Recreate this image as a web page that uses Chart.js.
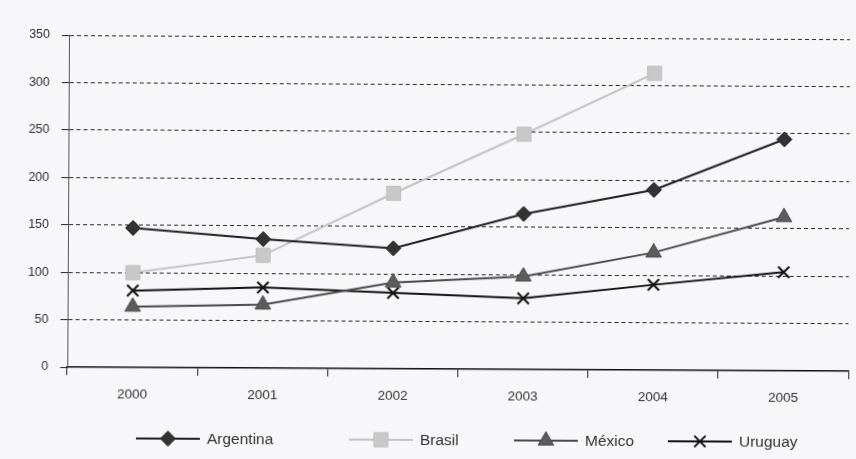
<!DOCTYPE html>
<html>
<head>
<meta charset="utf-8">
<script src="https://cdn.jsdelivr.net/npm/chart.js@4.4.1/dist/chart.umd.min.js"></script>
<style>
  html, body { margin: 0; padding: 0; background: #f7f6f8; overflow: hidden; }
  #wrap { width: 860px; height: 459px; transform: rotate(0.3deg); transform-origin: 428px 230px; }
  canvas { display: block; }
</style>
</head>
<body>
<div id="wrap"><canvas id="chart" width="860" height="459"></canvas></div>
<script>
// Years on the horizontal axis
const years = ['2000', '2001', '2002', '2003', '2004', '2005'];

// Index values per country (Brasil has no 2005 figure)
const argentina = [147, 136, 127, 164, 190, 244];
const brasil    = [100, 119, 185, 248, 313, null];
const mexico    = [64, 67, 91, 98, 124, 162];
const uruguay   = [81, 85, 80, 75, 90, 104];

// Vertical axis range and step
const yMin = 0;
const yMax = 350;
const yStep = 50;

const FONT = '"Liberation Sans", Arial, Helvetica, sans-serif';

// Key drawn under the axis: one line sample with marker per series
const keyLayout = { y: 440, starts: [137, 350, 515, 669], lineLength: 64, gap: 7 };

const seriesKey = {
  id: 'seriesKey',
  afterDraw(chart) {
    const ctx = chart.ctx;
    chart.data.datasets.forEach((ds, i) => {
      const x0 = keyLayout.starts[i];
      const y = keyLayout.y;
      const len = keyLayout.lineLength;
      ctx.save();
      ctx.strokeStyle = ds.borderColor;
      ctx.lineWidth = ds.borderWidth;
      ctx.beginPath();
      ctx.moveTo(x0, y);
      ctx.lineTo(x0 + len, y);
      ctx.stroke();
      ctx.fillStyle = ds.pointBackgroundColor;
      ctx.strokeStyle = ds.pointBorderColor;
      ctx.lineWidth = ds.pointBorderWidth;
      Chart.helpers.drawPoint(ctx, {
        pointStyle: ds.pointStyle,
        radius: ds.pointRadius,
        rotation: 0,
        borderWidth: ds.pointBorderWidth
      }, x0 + len / 2, y);
      ctx.fillStyle = '#333';
      ctx.font = '15.5px ' + FONT;
      ctx.textBaseline = 'middle';
      ctx.textAlign = 'left';
      ctx.fillText(ds.label, x0 + len + keyLayout.gap, y + 1);
      ctx.restore();
    });
  }
};

new Chart(document.getElementById('chart'), {
  type: 'line',
  data: {
    labels: years,
    datasets: [
      {
        label: 'Argentina',
        data: argentina,
        borderColor: '#1f1f1f',
        borderWidth: 2,
        pointStyle: 'rectRot',
        pointRadius: 7.5,
        pointBackgroundColor: '#333333',
        pointBorderColor: '#1f1f1f',
        pointBorderWidth: 1
      },
      {
        label: 'Brasil',
        data: brasil,
        borderColor: '#c3c3c3',
        borderWidth: 2,
        pointStyle: 'rect',
        pointRadius: 10,
        pointBackgroundColor: '#c8c8c8',
        pointBorderColor: '#c0c0c0',
        pointBorderWidth: 1
      },
      {
        label: 'México',
        data: mexico,
        borderColor: '#4a4a4a',
        borderWidth: 2,
        pointStyle: 'triangle',
        pointRadius: 9,
        pointBackgroundColor: '#5c5c5c',
        pointBorderColor: '#4a4a4a',
        pointBorderWidth: 1
      },
      {
        label: 'Uruguay',
        data: uruguay,
        borderColor: '#121212',
        borderWidth: 2,
        pointStyle: 'crossRot',
        pointRadius: 8,
        pointBackgroundColor: '#121212',
        pointBorderColor: '#121212',
        pointBorderWidth: 2
      }
    ]
  },
  options: {
    responsive: false,
    devicePixelRatio: 1,
    animation: false,
    events: [],
    layout: { padding: { top: 37, left: 0, right: 0, bottom: 0 } },
    plugins: {
      legend: { display: false },
      tooltip: { enabled: false },
      title: { display: false }
    },
    scales: {
      x: {
        type: 'category',
        offset: true,
        afterFit(scale) { scale.height = 90; },
        grid: {
          offset: true,
          drawOnChartArea: false,
          drawTicks: true,
          tickLength: 8,
          color: '#222'
        },
        border: { display: true, color: '#111', width: 1.5 },
        ticks: {
          color: '#333',
          font: { family: FONT, size: 13.5 },
          padding: 11,
          maxRotation: 0
        }
      },
      y: {
        min: yMin,
        max: yMax,
        afterFit(scale) { scale.width = 68; },
        grid: {
          color: (c) => (c.tick && c.tick.value === 0 ? 'rgba(0,0,0,0)' : '#2a2a2a'),
          tickLength: 7,
          tickColor: '#222',
          tickBorderDash: [],
          lineWidth: 1
        },
        border: { display: true, color: '#555', width: 1, dash: [4, 3] },
        ticks: {
          stepSize: yStep,
          color: '#333',
          font: { family: FONT, size: 12.5 },
          padding: 12
        }
      }
    }
  },
  plugins: [seriesKey]
});
</script>
</body>
</html>
